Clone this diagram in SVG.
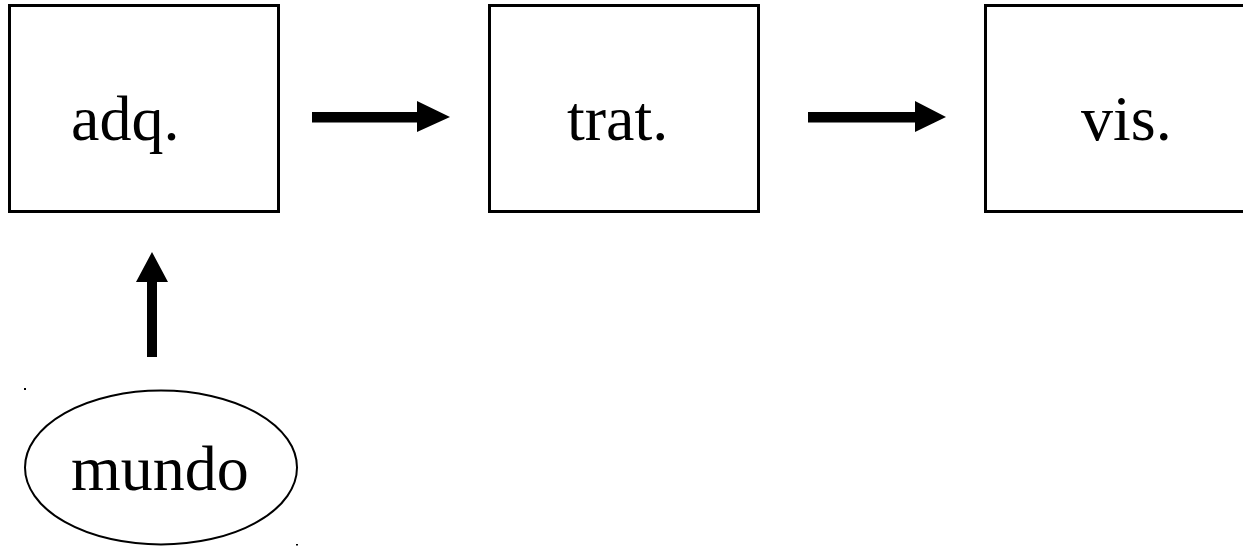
<svg xmlns="http://www.w3.org/2000/svg" width="1243" height="547" viewBox="0 0 1243 547">
  <style>
    .box { fill: #ffffff; stroke: #000000; stroke-width: 3; }
    .oval { fill: #ffffff; stroke: #000000; stroke-width: 2; }
    .label { font-family: "Liberation Serif", "Times New Roman", serif; font-size: 64px; fill: #000000; }
    .arrow { fill: #000000; stroke: none; }
  </style>
  <rect width="1243" height="547" fill="#ffffff"/>

  <g id="node-adq">
    <rect class="box" x="9.5" y="5.5" width="269" height="206"/>
    <text class="label" x="71" y="140">adq.</text>
  </g>

  <g id="node-trat">
    <rect class="box" x="489.5" y="5.5" width="269" height="206"/>
    <text class="label" x="567" y="140">trat.</text>
  </g>

  <g id="node-vis">
    <rect class="box" x="985.5" y="5.5" width="269" height="206"/>
    <text class="label" x="1081" y="140">vis.</text>
  </g>

  <g id="node-mundo">
    <ellipse class="oval" cx="161" cy="467.5" rx="136" ry="77"/>
    <text class="label" x="71" y="490">mundo</text>
    <rect x="24" y="388" width="2" height="2" fill="#000000"/>
    <rect x="296" y="544" width="2" height="1.5" fill="#000000"/>
  </g>

  <g id="connectors">
    <!-- adq. -> trat. -->
    <polygon class="arrow" points="312,112 417,112 417,101 450,117 417,132 417,122.5 312,122.5"/>
    <!-- trat. -> vis. -->
    <polygon class="arrow" points="808,112 915,112 915,101 946,117 915,132 915,122.5 808,122.5"/>
    <!-- mundo -> adq. -->
    <polygon class="arrow" points="147,357 147,282 136,282 152,252 168,282 157,282 157,357"/>
  </g>
</svg>
